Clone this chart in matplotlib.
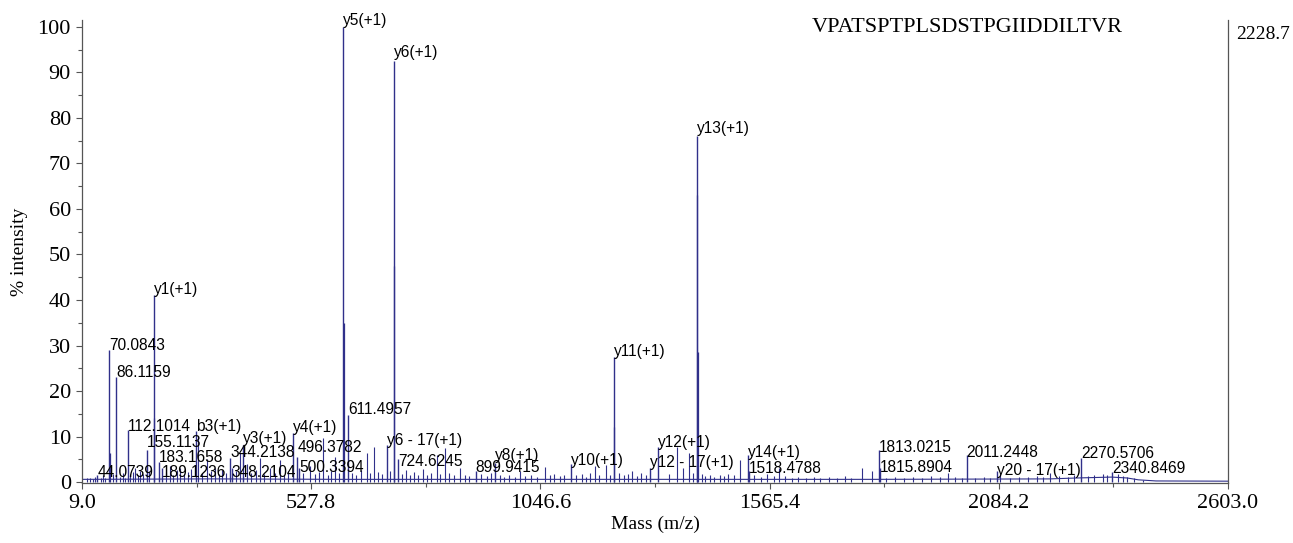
import matplotlib
matplotlib.use("Agg")
import matplotlib.pyplot as plt
from matplotlib.ticker import FixedLocator, MultipleLocator
import numpy as np

# ---------------- data ----------------
peptide = "VPATSPTPLSDSTPGIIDDILTVR"
precursor_text = "2228.7"

# annotated peaks (mass, % intensity, label)
label_mass = [44.0739, 70.0843, 86.1159, 112.1014, 155.1137, 172.0, 183.1658, 189.1236,
              267.0, 344.2138, 348.2104, 373.0, 487.0, 496.3782, 500.3394, 600.0,
              611.4957, 699.0, 715.0, 724.6245, 899.9415, 944.0, 1116.0, 1213.0,
              1295.0, 1313.0, 1401.0, 1516.0, 1518.4788, 1813.0215, 1815.8904,
              2011.2448, 2080.0, 2270.5706, 2340.8469]
label_int = [1.5, 29.0, 23.0, 11.5, 7.0, 41.0, 4.5, 3.0,
             11.2, 5.3, 3.0, 8.1, 10.8, 5.5, 3.0, 100.0,
             14.7, 8.1, 92.5, 5.0, 2.5, 4.3, 4.0, 27.5,
             3.0, 7.7, 76.0, 5.9, 2.5, 7.0, 3.0,
             6.0, 2.5, 5.3, 2.2]
label_text = ["44.0739", "70.0843", "86.1159", "112.1014", "155.1137", "y1(+1)", "183.1658", "189.1236",
              "b3(+1)", "344.2138", "348.2104", "y3(+1)", "y4(+1)", "496.3782", "500.3394", "y5(+1)",
              "611.4957", "y6 - 17(+1)", "y6(+1)", "724.6245", "899.9415", "y8(+1)", "y10(+1)", "y11(+1)",
              "y12 - 17(+1)", "y12(+1)", "y13(+1)", "y14(+1)", "1518.4788", "1813.0215", "1815.8904",
              "2011.2448", "y20 - 17(+1)", "2270.5706", "2340.8469"]

# isotope / shoulder peaks next to the big ones
iso_mass = [73.0, 173.0, 601.0, 716.0, 1214.0, 1402.0, 1403.0]
iso_int = [6.3, 14.0, 35.0, 47.5, 12.0, 63.0, 28.5]

# unlabelled minor peaks
minor_mass = [20, 27, 33, 39, 51, 57, 61, 79, 95, 101, 106, 118, 124, 130, 136, 140, 147, 160,
              199, 208, 215, 223, 231, 240, 248, 256, 272, 281, 291, 300, 310, 318, 327, 335,
              357, 367, 382, 392, 402, 412, 422, 434, 445, 457, 466, 475, 510, 525, 536, 545,
              555, 566, 573, 582, 590,
              620, 630, 641, 653, 661, 670, 680, 688, 707, 733, 742, 752, 760, 770, 780, 790,
              800, 812, 820, 830, 840, 850, 865, 875, 885, 912, 925, 935, 955, 965, 975, 988,
              1000, 1012, 1025, 1040, 1057, 1068, 1078, 1090, 1100, 1128, 1140, 1150, 1160,
              1170, 1180, 1195, 1205,
              1225, 1235, 1245, 1255, 1265, 1275, 1285, 1338, 1356, 1369, 1383, 1392, 1412,
              1420, 1430, 1440, 1452, 1462, 1472, 1485, 1498, 1530, 1545, 1560, 1575, 1587,
              1600,
              1615, 1630, 1648, 1665, 1680, 1700, 1718, 1735, 1750, 1774, 1797, 1830, 1850,
              1870, 1890, 1910, 1930, 1950, 1969, 1985, 2000, 2030, 2050, 2065, 2087,
              2110, 2130, 2150, 2170, 2185, 2200, 2220, 2240, 2255, 2285, 2300, 2320, 2330,
              2355, 2365, 2375, 2390, 2410]
minor_int = [0.8, 1.0, 0.6, 1.2, 0.9, 1.5, 1.0, 1.8, 1.2, 2.0, 1.0, 1.5, 2.2, 3.0, 1.6, 2.5, 1.8, 2.4,
             2.0, 3.5, 1.6, 2.6, 3.0, 1.8, 2.2, 2.8, 10.0, 2.0, 5.0, 2.4, 3.0, 1.8, 2.6, 2.0,
             2.4, 6.4, 4.0, 2.0, 2.6, 5.2, 1.8, 3.0, 2.0, 4.8, 1.6, 2.5, 2.0, 3.5, 1.8, 2.2,
             9.7, 1.5, 2.4, 5.5, 2.0,
             2.0, 1.5, 2.6, 6.4, 2.0, 7.7, 2.2, 1.8, 2.5, 1.8, 2.6, 1.5, 2.2, 1.6, 2.8, 1.5,
             2.0, 6.0, 1.8, 7.5, 2.0, 1.5, 3.0, 1.6, 1.4, 1.8, 1.4, 2.0, 1.6, 1.2, 1.5, 1.2,
             2.5, 1.4, 1.6, 1.2, 3.3, 1.5, 1.8, 1.3, 1.6, 1.5, 1.8, 1.2, 2.0,
             3.5, 1.6, 3.7, 1.5,
             2.0, 1.5, 1.8, 2.4, 1.3, 2.0, 1.6, 1.8, 7.7, 3.0, 6.3, 2.0, 1.8,
             1.4, 1.6, 1.2, 1.5, 1.3, 1.8, 1.5, 4.8, 1.5, 1.2, 1.8, 1.4, 3.0,
             1.3,
             1.0, 1.2, 0.9, 1.1, 1.0, 1.2, 0.9, 1.3, 1.0, 3.0, 2.5, 1.0, 1.2,
             0.9, 1.1, 1.0, 1.3, 1.1, 2.0, 1.2, 1.0, 1.0, 1.2, 1.0, 2.0,
             1.0, 1.2, 1.1, 1.3, 1.2, 2.0, 1.3, 1.2, 1.5, 1.4, 1.5, 1.8, 1.6,
             1.8, 1.4, 1.2, 0.8, 0.5]

# baseline of the profile
base_mass = [9, 300, 600, 1200, 1800, 2200, 2260, 2300, 2340, 2375, 2400, 2440, 2603]
base_int = [0.6, 0.7, 0.6, 0.6, 0.6, 0.7, 0.9, 1.0, 1.1, 0.9, 0.5, 0.25, 0.2]

x_ticks = [9.0, 527.8, 1046.6, 1565.4, 2084.2, 2603.0]
y_ticks = [0, 10, 20, 30, 40, 50, 60, 70, 80, 90, 100]

# ---------------- layout (label text centre heights, % units) ----------------
label_y = {"44.0739": 2.2, "70.0843": 30.1, "86.1159": 24.0, "112.1014": 12.3, "155.1137": 8.6,
           "y1(+1)": 42.2, "183.1658": 5.5, "189.1236": 2.2, "b3(+1)": 12.3, "344.2138": 6.4,
           "348.2104": 2.0, "y3(+1)": 9.5, "y4(+1)": 11.9, "496.3782": 7.5, "500.3394": 3.3,
           "y5(+1)": 101.5, "611.4957": 16.0, "y6 - 17(+1)": 9.2, "y6(+1)": 94.3, "724.6245": 4.6,
           "899.9415": 3.1, "y8(+1)": 5.9, "y10(+1)": 4.8, "y11(+1)": 28.6, "y12 - 17(+1)": 4.2,
           "y12(+1)": 8.8, "y13(+1)": 77.6, "y14(+1)": 6.6, "1518.4788": 2.9, "1813.0215": 7.7,
           "1815.8904": 3.3, "2011.2448": 6.4, "y20 - 17(+1)": 2.6, "2270.5706": 6.2,
           "2340.8469": 3.0}

W, H = 1293, 543
line_col = "#30308a"
serif = ["Liberation Serif", "DejaVu Serif"]
sans = ["Liberation Sans", "DejaVu Sans"]

fig = plt.figure(figsize=(W / 100, H / 100), dpi=100)
ax = fig.add_axes([82 / W, (H - 483) / H, (1228 - 82) / W, (483 - 20) / H])

# baseline and peaks
ax.plot(base_mass, base_int, color=line_col, lw=0.8)
ax.vlines(minor_mass, 0, minor_int, color=line_col, lw=0.8)
ax.vlines(iso_mass, 0, iso_int, color=line_col, lw=0.9)
ax.vlines(label_mass, 0, label_int, color=line_col, lw=1.0)

for m, t in zip(label_mass, label_text):
    ax.text(m, label_y[t], t, ha="left", va="center", fontsize=11.2,
            family=sans, color="black", zorder=5)

ax.set_xlim(x_ticks[0], x_ticks[-1])
ax.set_ylim(-0.2, 101.5)
ax.xaxis.set_major_locator(FixedLocator(x_ticks))
ax.xaxis.set_minor_locator(FixedLocator([(a + b) / 2 for a, b in zip(x_ticks[:-1], x_ticks[1:])]))
ax.set_xticklabels([f"{v:.1f}" for v in x_ticks])
ax.yaxis.set_major_locator(FixedLocator(y_ticks))
ax.yaxis.set_minor_locator(MultipleLocator(5))
ax.set_yticklabels([str(v) for v in y_ticks])

for lab in ax.get_xticklabels() + ax.get_yticklabels():
    lab.set_family(serif)
    lab.set_fontsize(16)

ax.tick_params(axis="both", which="major", length=4, width=0.8, color="#555555", pad=4)
ax.tick_params(axis="both", which="minor", length=3, width=0.8, color="#555555")
ax.spines["top"].set_visible(False)
for s in ["left", "bottom", "right"]:
    ax.spines[s].set_color("#555555")
    ax.spines[s].set_linewidth(0.9)

ax.set_xlabel("Mass (m/z)", family=serif, fontsize=14)
ax.set_ylabel("% intensity", family=serif, fontsize=14)
ax.xaxis.set_label_coords(0.5, -(524 - 483) / (483 - 20), transform=ax.transAxes)
ax.yaxis.set_label_coords(-(82 - 20) / (1228 - 82), 0.5, transform=ax.transAxes)
ax.xaxis.label.set_va("center")
ax.yaxis.label.set_va("center")

fig.text(967 / W, 1 - 28 / H, peptide, ha="center", va="center", family=serif, fontsize=16)
fig.text(1236 / W, 1 - 34 / H, precursor_text, ha="left", va="center", family=serif, fontsize=14)

fig.savefig("out.png", dpi=100)
